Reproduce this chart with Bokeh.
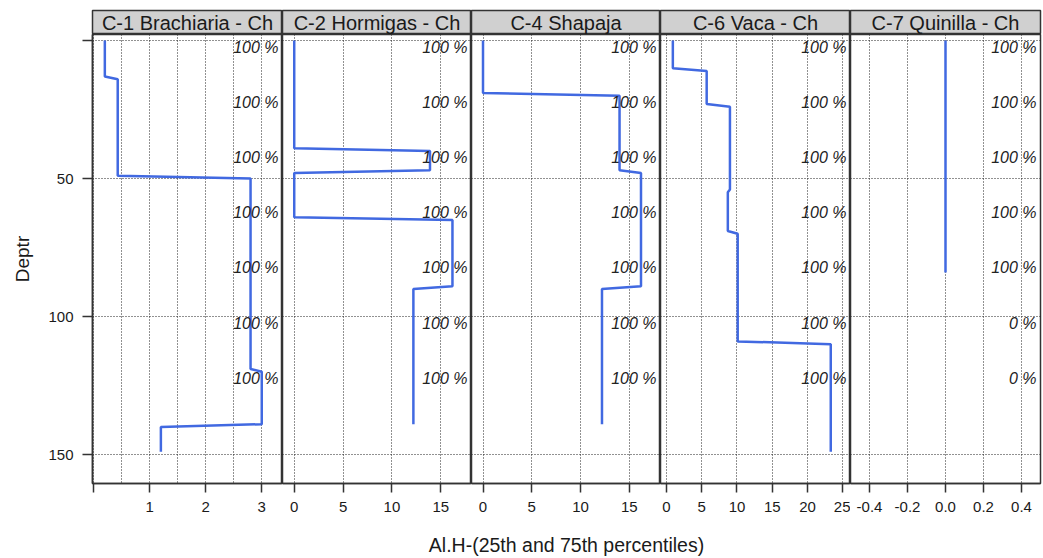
from bokeh.plotting import figure
from bokeh.layouts import row, column
from bokeh.models import Range1d, FixedTicker, Label, PrintfTickFormatter, Grid
from bokeh.core.properties import value
from bokeh.embed import file_html
from bokeh.resources import INLINE

FONT = "Liberation Sans"

# ---- data -------------------------------------------------------------
site_names = ["C-1 Brachiaria - Ch", "C-2 Hormigas - Ch", "C-4 Shapaja",
              "C-6 Vaca - Ch", "C-7 Quinilla - Ch"]

# horizon tops / bottoms (cm) and median Al.H per horizon
c1_top = [0, 14, 50, 120, 140]
c1_bottom = [14, 50, 120, 140, 150]
c1_al = [0.2, 0.43, 2.8, 3.0, 1.2]

c2_top = [0, 40, 48, 65, 90]
c2_bottom = [40, 48, 65, 90, 140]
c2_al = [0.0, 13.9, 0.0, 16.2, 12.2]

c4_top = [0, 20, 48, 90]
c4_bottom = [20, 48, 90, 140]
c4_al = [0.0, 14.0, 16.2, 12.2]

c6_top = [0, 11, 24, 55, 70, 110]
c6_bottom = [11, 24, 55, 70, 110, 150]
c6_al = [0.9, 5.7, 9.0, 8.7, 10.1, 23.3]

c7_top = [0]
c7_bottom = [85]
c7_al = [0.0]

# share of profiles contributing at each depth
pct_depths = [0, 20, 40, 60, 80, 100, 120]
c1_pct = ["100 %"] * 7
c2_pct = ["100 %"] * 7
c4_pct = ["100 %"] * 7
c6_pct = ["100 %"] * 7
c7_pct = ["100 %"] * 5 + ["0 %"] * 2

# axis limits and ticks
depth_ticks = [0, 50, 100, 150]
x_limits = [(-0.02, 3.37), (-1.2, 18.15), (-1.18, 18.2), (-0.85, 26.1), (-0.5, 0.5)]
x_ticks = [[0, 1, 2, 3], [0, 5, 10, 15], [0, 5, 10, 15],
           [0, 5, 10, 15, 20, 25], [-0.4, -0.2, 0.0, 0.2, 0.4]]
x_grid = [[0, 0.5, 1, 1.5, 2, 2.5, 3], [0, 5, 10, 15], [0, 5, 10, 15],
          [0, 5, 10, 15, 20, 25], [-0.4, -0.2, 0.0, 0.2, 0.4]]
x_title = "Al.H-(25th and 75th percentiles)"
y_title = "Deptr"

profiles = [(c1_top, c1_bottom, c1_al, c1_pct),
            (c2_top, c2_bottom, c2_al, c2_pct),
            (c4_top, c4_bottom, c4_al, c4_pct),
            (c6_top, c6_bottom, c6_al, c6_pct),
            (c7_top, c7_bottom, c7_al, c7_pct)]

# ---- layout -----------------------------------------------------------
FRAME_W = [190, 189, 189, 190, 190]
LEFT_PAD = 92
RIGHT_PAD = 3
HEADER_H = 24
TOP_PAD = 10
FRAME_H = 449
BOTTOM_PAD = 40
TITLE_H = 558 - TOP_PAD - HEADER_H - FRAME_H - BOTTOM_PAD

LINE_COLOR = "#4169E1"
BORDER = "#333333"
GRID = "#222222"


def profile_path(tops, bottoms, vals):
    xs, ys = [], []
    for t, b, v in zip(tops, bottoms, vals):
        xs += [v, v]
        ys += [t, b - 1]
    return xs, ys


def style_axis(ax, tick_len):
    ax.major_tick_out = tick_len
    ax.major_tick_in = 0
    ax.minor_tick_out = 0
    ax.minor_tick_in = 0
    ax.major_label_standoff = 9
    ax.major_label_text_font = FONT
    ax.major_label_text_font_size = "15px"
    ax.major_label_text_color = "#1a1a1a"
    ax.axis_line_color = BORDER
    ax.axis_line_width = 1.5
    ax.major_tick_line_color = BORDER
    ax.major_tick_line_width = 1.5


headers, panels = [], []
for i, (name, (tops, bottoms, vals, pct)) in enumerate(zip(site_names, profiles)):
    lb = LEFT_PAD if i == 0 else 0
    rb = RIGHT_PAD if i == len(site_names) - 1 else 0
    w = FRAME_W[i] + lb + rb

    # strip header
    h = figure(width=w, height=HEADER_H + TOP_PAD, x_range=Range1d(0, 1), y_range=Range1d(0, 1),
               x_axis_location=None, y_axis_location=None, toolbar_location=None,
               output_backend="svg", min_border_left=lb, min_border_right=rb,
               min_border_top=TOP_PAD, min_border_bottom=0)
    h.grid.visible = False
    h.background_fill_color = "#D0D0D0"
    h.border_fill_color = "white"
    h.outline_line_color = BORDER
    h.outline_line_width = 1.5
    h.add_layout(Label(x=0.5, y=0.5, text=name, text_align="center", text_baseline="middle",
                       text_font=FONT, text_font_size="20px", text_color="#1a1a1a"))
    headers.append(h)

    # profile panel
    xr = Range1d(*x_limits[i])
    p = figure(width=w, height=FRAME_H + BOTTOM_PAD, x_range=xr, y_range=Range1d(160.5, -2.2),
               x_axis_location="below", y_axis_location="left" if i == 0 else None,
               toolbar_location=None, output_backend="svg",
               min_border_left=lb, min_border_right=rb, min_border_top=0,
               min_border_bottom=BOTTOM_PAD)
    p.center = [r for r in p.center if not isinstance(r, Grid)]
    p.add_layout(Grid(dimension=0, ticker=FixedTicker(ticks=x_grid[i]),
                      grid_line_color=GRID, grid_line_dash="1 2", grid_line_width=1), "center")
    p.add_layout(Grid(dimension=1, ticker=FixedTicker(ticks=depth_ticks),
                      grid_line_color=GRID, grid_line_dash="1 2", grid_line_width=1), "center")
    p.outline_line_color = BORDER
    p.outline_line_width = 1.5
    p.background_fill_color = "white"

    xa = p.xaxis[0]
    xa.ticker = FixedTicker(ticks=x_ticks[i])
    if i == 0:
        xa.major_label_overrides = {0: ""}
    if i == 4:
        xa.formatter = PrintfTickFormatter(format="%.1f")
    style_axis(xa, 9)

    if i == 0:
        ya = p.yaxis[0]
        ya.ticker = FixedTicker(ticks=depth_ticks)
        ya.major_label_overrides = {0: ""}
        style_axis(ya, 10)
        ya.axis_label = y_title
        ya.axis_label_text_font = FONT
        ya.axis_label_text_font_size = "19px"
        ya.axis_label_text_font_style = "normal"
        ya.axis_label_text_color = "#1a1a1a"
        ya.axis_label_standoff = 12

    xs, ys = profile_path(tops, bottoms, vals)
    p.line(xs, ys, line_color=LINE_COLOR, line_width=2.5)

    p.text(x=[xr.end] * len(pct_depths), y=pct_depths, text=pct,
           text_align="right", text_baseline="top", x_offset=-4, y_offset=-2,
           text_font=value(FONT), text_font_style="italic", text_font_size="16px",
           text_color="#222222")
    panels.append(p)

# shared x-axis title centred under the panel strip
t = figure(width=sum(FRAME_W) + LEFT_PAD + RIGHT_PAD, height=TITLE_H,
           x_range=Range1d(0, 1), y_range=Range1d(0, 1),
           x_axis_location=None, y_axis_location=None, toolbar_location=None,
           output_backend="svg", min_border_left=LEFT_PAD, min_border_right=RIGHT_PAD,
           min_border_top=0, min_border_bottom=0)
t.grid.visible = False
t.outline_line_color = None
t.background_fill_color = "white"
t.border_fill_color = "white"
t.add_layout(Label(x=0.5, y=0.4, text=x_title, text_align="center", text_baseline="middle",
                   text_font=FONT, text_font_size="19.5px", text_color="#1a1a1a"))

layout = column(row(*headers), row(*panels), t)
open("out.html", "w").write(file_html(layout, INLINE))
